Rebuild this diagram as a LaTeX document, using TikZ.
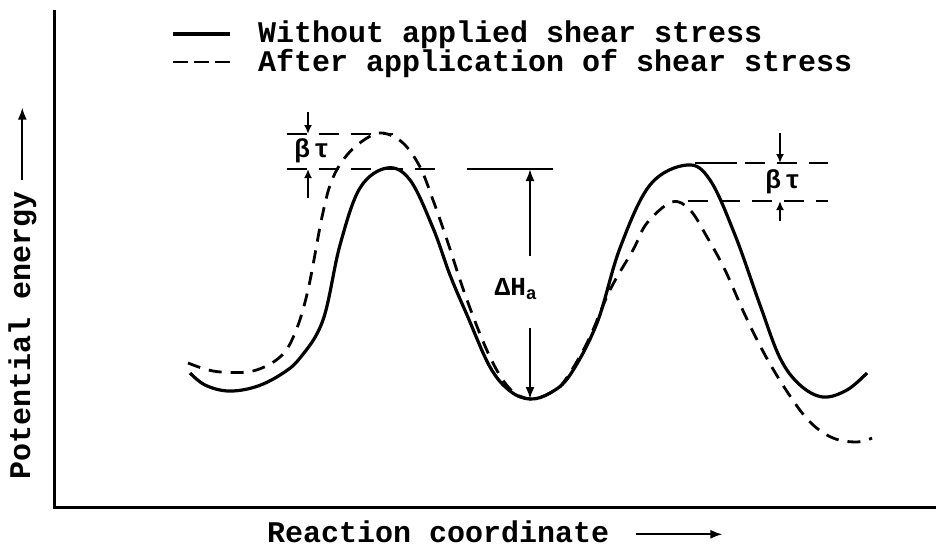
\documentclass[tikz,border=0pt]{standalone}
\usepackage{fontspec}
\setmainfont{Liberation Mono}
\usetikzlibrary{arrows.meta,positioning,calc}

\begin{document}
\begin{tikzpicture}[x=1pt,y=-1pt,
  axis/.style={line width=3pt},
  solidcurve/.style={line width=3.2pt,line join=round},
  dashcurve/.style={line width=2.8pt,dash pattern=on 13pt off 9pt},
  lvl/.style={line width=2.4pt},
  lvldash/.style={line width=2.4pt,dash pattern=on 20pt off 12pt},
  arr/.style={-{Latex[length=12pt,width=9pt]},line width=2pt},
  small arr/.style={-{Latex[length=9pt,width=8pt]},line width=2pt},
  txt/.style={font=\fontsize{30}{34}\selectfont\bfseries,inner sep=0pt},
  sym/.style={font=\fontsize{26}{30}\selectfont\bfseries,inner sep=0pt}
]
\useasboundingbox (0,0) rectangle (936,549);

% axes
\coordinate (ytop) at (54,10);
\coordinate (origin) at (54,507);
\coordinate (xend) at (936,507);
\draw[axis] (ytop) -- (origin) -- (xend);

\node[txt,anchor=base west] (xlab) at (267,542) {Reaction coordinate};
\draw[arr] ($(xlab.east)+(27,3)$) -- ++(86,0);
\node[txt,rotate=90,anchor=base west] (ylab) at (30,480) {Potential energy};
\draw[arr] ($(ylab.east)+(0,-12)$) -- ++(0,-72);

% legend
\coordinate (k1) at (173,34);
\coordinate (k2) at (173,62);
\draw[solidcurve] (k1) -- ++(57,0);
\draw[dashcurve,dash pattern=on 15pt off 6pt] (k2) -- ++(57,0);
\node[txt,anchor=base west] (solidkey) at (258,42) {Without applied shear stress};
\node[txt,anchor=base west] (dashkey) at (258,71) {After application of shear stress};

% energy curves
\draw[solidcurve] plot[smooth,tension=0.6] coordinates {
  (190,373) (205,385) (228,391) (255,387) (280,375) (300,358) (323,320)
  (340,245) (360,188) (387,168) (410,180) (433,228) (450,275) (467,315)
  (490,367) (510,391) (530,399) (550,393) (570,375) (597,323) (620,248)
  (650,185) (687,165) (710,180) (735,235) (760,305) (780,358) (800,385)
  (823,397) (847,390) (867,373)};
\draw[dashcurve] plot[smooth,tension=0.6] coordinates {
  (188,363) (205,369) (222,372) (253,371) (280,357) (295,333) (308,290)
  (322,217) (332,180) (347,155) (367,138) (383,133) (403,143) (420,167)
  (433,200) (447,240) (467,300) (490,357) (510,389) (530,399) (548,394)
  (563,383) (587,343) (610,290) (633,250) (647,223) (672,202) (690,210)
  (707,237) (725,270) (745,315) (765,355) (788,393) (810,422) (833,438)
  (857,442) (872,438)};

% left shift of the barrier
\coordinate (la) at (287,134);
\coordinate (lb) at (287,169);
\draw[lvldash] (la) -- (393,134);
\draw[lvldash] (lb) -- (447,169);
\node[sym] (lbt) at (312,151) {β\hspace{4pt}τ};
\draw[small arr] (308,112) -- (308,134);
\draw[small arr] (308,198) -- (308,169);

% activation energy
\coordinate (dhtop) at (530,169);
\coordinate (dhbot) at (530,399);
\draw[lvl] (467,169) -- (dhtop) -- (553,169);
\node[sym] (dh) at (516,289) {ΔH\textsubscript{a}};
\draw[arr] ($(dh.north -| dhtop)+(0,-22)$) -- (dhtop);
\draw[arr] ($(dh.south -| dhbot)+(0,28)$) -- (dhbot);

% right shift of the barrier
\coordinate (ra) at (695,163);
\coordinate (rb) at (688,201);
\draw[lvl] (ra) -- (737,163);
\draw[lvldash] (745,163) -- (828,163);
\draw[lvldash] (rb) -- (828,201);
\node[sym] (rbt) at (783,182) {β\hspace{4pt}τ};
\draw[small arr] (780,133) -- (780,163);
\draw[small arr] (780,221) -- (780,201);
\end{tikzpicture}
\end{document}
